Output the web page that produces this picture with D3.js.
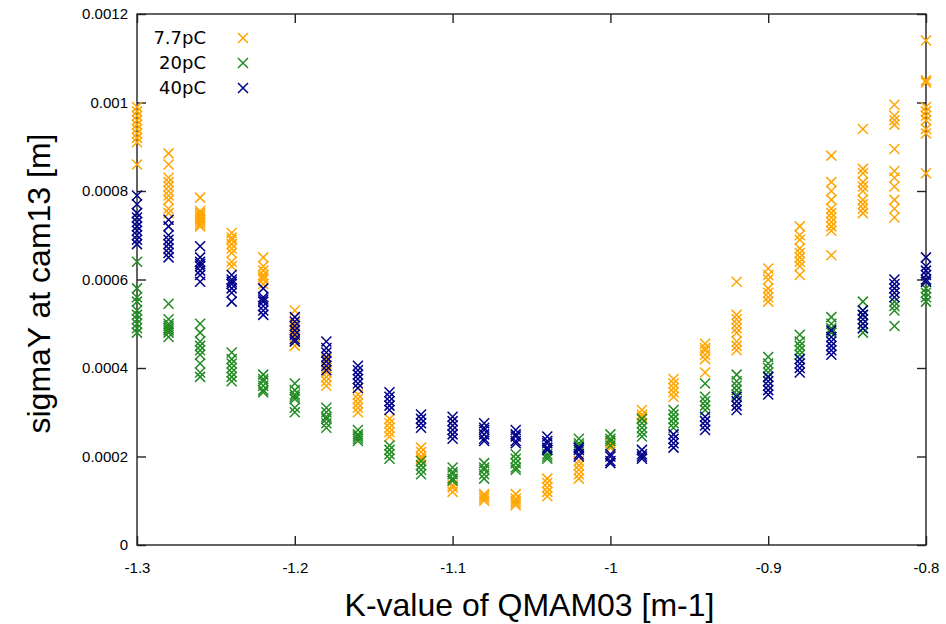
<!DOCTYPE html>
<html lang="en">
<head>
    <meta charset="UTF-8">
    <title>sigmaY scan</title>
    <script src="https://d3js.org/d3.v7.min.js"></script>
    <style>
        body{
            margin: 0;
            background-color: white;
        }
        #canvas text{
            font-family: "Liberation Sans", Arial, sans-serif;
            fill: black;
        }
    </style>
</head>
<body>
<svg id="canvas" width="946" height="624"></svg>
<script>
    // K-values of QMAM03 (one column of shots per value)
    let kValues = [-1.30, -1.28, -1.26, -1.24, -1.22, -1.20, -1.18, -1.16, -1.14, -1.12, -1.10, -1.08, -1.06,
                   -1.04, -1.02, -1.00, -0.98, -0.96, -0.94, -0.92, -0.90, -0.88, -0.86, -0.84, -0.82, -0.80];

    // sigmaY at cam13, in units of 1e-4 m, one list per K-value
    let sigma7p7 = [
        [9.9, 9.8, 9.7, 9.6, 9.5, 9.4, 9.3, 9.2, 9.1, 8.6],
        [8.85, 8.6, 8.3, 8.2, 8.1, 8.0, 7.9, 7.8, 7.6, 7.5],
        [7.85, 7.55, 7.5, 7.45, 7.4, 7.35, 7.3, 7.25, 7.2],
        [7.05, 6.95, 6.9, 6.8, 6.7, 6.6, 6.4, 6.3],
        [6.5, 6.3, 6.2, 6.1, 6.05, 6.0, 5.9],
        [5.3, 5.0, 4.9, 4.8, 4.7, 4.6, 4.5],
        [4.2, 4.0, 3.9, 3.8, 3.7, 3.6],
        [3.55, 3.4, 3.3, 3.2, 3.1, 3.0],
        [2.85, 2.75, 2.65, 2.55, 2.45],
        [2.2, 2.1, 2.0, 1.95, 1.9],
        [1.45, 1.35, 1.3, 1.2],
        [1.15, 1.1, 1.05, 1.0],
        [1.15, 1.05, 1.0, 0.95, 0.9],
        [1.5, 1.4, 1.3, 1.2, 1.1],
        [1.9, 1.8, 1.7, 1.6, 1.5],
        [2.35, 2.3, 2.2],
        [3.05, 2.95, 2.9, 2.85],
        [3.75, 3.65, 3.55, 3.45, 3.35],
        [4.55, 4.45, 4.4, 4.3, 4.2, 3.9],
        [5.95, 5.2, 5.1, 5.0, 4.9, 4.8, 4.6, 4.5, 4.4],
        [6.25, 6.1, 6.0, 5.8, 5.7, 5.6, 5.5],
        [7.2, 7.0, 6.9, 6.7, 6.6, 6.5, 6.4, 6.3, 6.1],
        [8.8, 8.2, 8.0, 7.8, 7.6, 7.5, 7.4, 7.3, 7.2, 7.1, 6.55],
        [9.4, 8.5, 8.4, 8.2, 8.1, 8.0, 7.8, 7.7, 7.6, 7.5],
        [9.95, 9.7, 9.6, 9.5, 8.95, 8.45, 8.3, 8.1, 7.8, 7.6, 7.4],
        [11.4, 10.5, 10.45, 9.9, 9.8, 9.7, 9.6, 9.4, 9.3, 8.4]
    ];
    let sigma20 = [
        [6.4, 5.8, 5.6, 5.5, 5.3, 5.2, 5.1, 5.0, 4.9, 4.8],
        [5.45, 5.1, 5.0, 4.95, 4.9, 4.85, 4.8, 4.7],
        [5.0, 4.8, 4.6, 4.5, 4.4, 4.3, 4.1, 3.9, 3.8],
        [4.35, 4.2, 4.1, 4.0, 3.9, 3.8, 3.7],
        [3.85, 3.75, 3.7, 3.6, 3.5, 3.45],
        [3.65, 3.5, 3.4, 3.35, 3.3, 3.1, 3.0],
        [3.1, 3.0, 2.9, 2.85, 2.75, 2.65],
        [2.6, 2.5, 2.45, 2.4, 2.35],
        [2.25, 2.15, 2.05, 1.95],
        [1.9, 1.8, 1.7, 1.6],
        [1.75, 1.65, 1.6, 1.5, 1.45],
        [1.85, 1.75, 1.7, 1.6, 1.5],
        [2.05, 1.95, 1.85, 1.75, 1.7],
        [2.15, 2.05, 2.0, 1.95],
        [2.4, 2.3, 2.25, 2.2],
        [2.5, 2.4, 2.35, 2.25],
        [2.85, 2.75, 2.65, 2.55, 2.45],
        [3.05, 2.95, 2.85, 2.75, 2.65],
        [3.65, 3.35, 3.25, 3.15, 3.05],
        [3.85, 3.7, 3.6, 3.5, 3.4],
        [4.25, 4.1, 4.0, 3.9, 3.8],
        [4.75, 4.6, 4.5, 4.4, 4.3],
        [5.15, 5.0, 4.9, 4.8],
        [5.5, 5.3, 5.2, 5.0, 4.9, 4.8],
        [5.5, 5.4, 5.3, 4.95],
        [5.95, 5.8, 5.7, 5.6, 5.5]
    ];
    let sigma40 = [
        [7.9, 7.7, 7.5, 7.4, 7.3, 7.2, 7.1, 7.0, 6.9, 6.8],
        [7.35, 7.2, 7.0, 6.9, 6.8, 6.7, 6.6, 6.5],
        [6.75, 6.5, 6.4, 6.35, 6.3, 6.2, 6.1, 5.95],
        [6.1, 6.0, 5.95, 5.9, 5.8, 5.7, 5.5],
        [5.8, 5.6, 5.55, 5.5, 5.4, 5.3, 5.2],
        [5.15, 5.05, 4.95, 4.85, 4.75, 4.65, 4.6],
        [4.6, 4.45, 4.35, 4.25, 4.15, 4.05, 3.95],
        [4.05, 3.95, 3.85, 3.75, 3.65, 3.55],
        [3.45, 3.35, 3.25, 3.15, 3.05],
        [2.95, 2.85, 2.75, 2.65],
        [2.9, 2.8, 2.7, 2.6, 2.5, 2.4],
        [2.75, 2.65, 2.6, 2.5, 2.4, 2.35],
        [2.6, 2.5, 2.45, 2.35, 2.3],
        [2.45, 2.35, 2.3, 2.2, 2.15],
        [2.2, 2.15, 2.05, 2.0],
        [2.05, 2.0, 1.9, 1.85],
        [2.15, 2.05, 2.0, 1.95],
        [2.5, 2.4, 2.3, 2.2],
        [2.9, 2.8, 2.7, 2.6],
        [3.35, 3.25, 3.15, 3.05],
        [3.8, 3.7, 3.6, 3.5, 3.4],
        [4.2, 4.1, 4.0, 3.9],
        [4.85, 4.7, 4.6, 4.5, 4.4, 4.3],
        [5.3, 5.2, 5.1, 5.0, 4.9],
        [6.0, 5.9, 5.8, 5.7, 5.6],
        [6.5, 6.3, 6.2, 6.1, 6.0, 5.95]
    ];

    let seriesNames = ["7.7pC", "20pC", "40pC"];
    let seriesColors = ["#ffa500", "#228b22", "#00008b"];
    let xTicks = [-1.3, -1.2, -1.1, -1, -0.9, -0.8];
    let yTicks = [0, 0.0002, 0.0004, 0.0006, 0.0008, 0.001, 0.0012];

    let svg = d3.select('#canvas');
    let margin = {left: 137, right: 20, top: 14, bottom: 79};
    let width = 946 - margin.left - margin.right;
    let height = 624 - margin.top - margin.bottom;

    let x = d3.scaleLinear().domain([-1.3, -0.8]).range([0, width]);
    let y = d3.scaleLinear().domain([0, 0.0012]).range([height, 0]);

    let g = svg.append('g').attr('transform', `translate(${margin.left},${margin.top})`);

    // gnuplot-like frame: ticks inside on all four sides
    let fmtX = d => (+d.toFixed(1)).toString();
    let fmtY = d => d === 0 ? '0' : (+d.toFixed(4)).toString();
    let tickLen = 9;

    let axBottom = g.append('g').attr('transform', `translate(0,${height})`)
        .call(d3.axisBottom(x).tickValues(xTicks).tickSizeInner(-tickLen).tickSizeOuter(0).tickPadding(17).tickFormat(fmtX));
    let axTop = g.append('g')
        .call(d3.axisTop(x).tickValues(xTicks).tickSizeInner(-tickLen).tickSizeOuter(0).tickFormat(''));
    let axLeft = g.append('g')
        .call(d3.axisLeft(y).tickValues(yTicks).tickSizeInner(-tickLen).tickSizeOuter(0).tickPadding(9).tickFormat(fmtY));
    let axRight = g.append('g').attr('transform', `translate(${width},0)`)
        .call(d3.axisRight(y).tickValues(yTicks).tickSizeInner(-tickLen).tickSizeOuter(0).tickFormat(''));

    [axBottom, axTop, axLeft, axRight].forEach(function (a){
        a.select('.domain').remove();
        a.selectAll('.tick line').attr('stroke', '#222').attr('stroke-width', 1.4);
        a.selectAll('.tick text').attr('font-size', '15px');
    });

    g.append('rect')
        .attr('width', width).attr('height', height)
        .attr('fill', 'none').attr('stroke', '#222').attr('stroke-width', 1.4);

    // axis titles
    svg.append('text')
        .attr('x', margin.left + width / 2 - 2).attr('y', 616)
        .attr('text-anchor', 'middle').attr('font-size', '32px')
        .text('K-value of QMAM03 [m-1]');
    svg.append('text')
        .attr('transform', `translate(50,${margin.top + height / 2 + 4}) rotate(-90)`)
        .attr('text-anchor', 'middle').attr('font-size', '32px')
        .text('sigmaY at cam13 [m]');

    // flatten each series into points
    let seriesData = [sigma7p7, sigma20, sigma40].map(function (cols, si){
        let pts = [];
        cols.forEach(function (vals, ci){
            vals.forEach(function (v){
                pts.push({k: kValues[ci], s: v * 1e-4});
            });
        });
        return {name: seriesNames[si], color: seriesColors[si], points: pts};
    });

    let r = 5;
    let cross = `M${-r},${-r}L${r},${r}M${-r},${r}L${r},${-r}`;

    seriesData.forEach(function (sd){
        g.append('g').selectAll('path')
            .data(sd.points)
            .enter()
            .append('path')
            .attr('d', cross)
            .attr('transform', d => `translate(${x(d.k)},${y(d.s)})`)
            .attr('fill', 'none')
            .attr('stroke', sd.color)
            .attr('stroke-width', 1.5);
    });

    // legend
    let legend = svg.append('g');
    seriesData.forEach(function (sd, i){
        let ly = 38 + i * 25;
        legend.append('text')
            .attr('x', 206).attr('y', ly).attr('dy', '0.35em')
            .attr('text-anchor', 'end').attr('font-size', '18px')
            .style('font-family', '"DejaVu Sans", sans-serif')
            .text(sd.name);
        legend.append('path')
            .attr('d', cross)
            .attr('transform', `translate(243,${ly})`)
            .attr('fill', 'none')
            .attr('stroke', sd.color)
            .attr('stroke-width', 1.5);
    });
</script>
</body>
</html>
